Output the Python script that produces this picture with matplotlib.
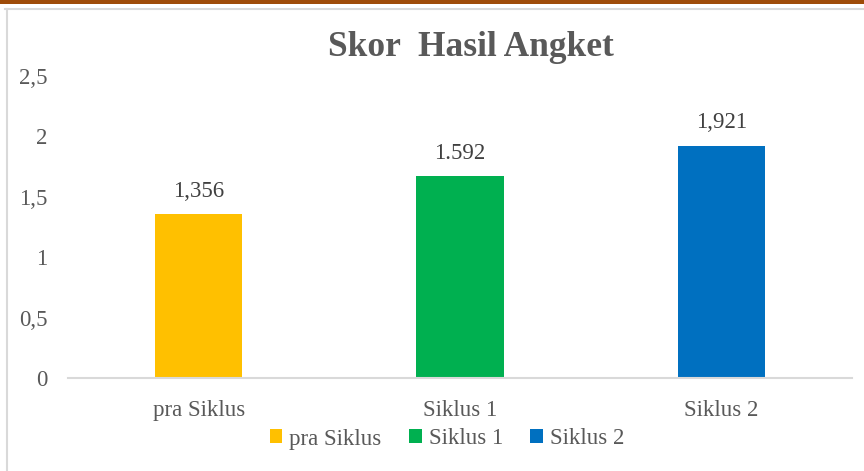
import matplotlib
matplotlib.use("Agg")
import matplotlib.pyplot as plt
from matplotlib.patches import Rectangle, Patch
from matplotlib.lines import Line2D

categories = ["pra Siklus", "Siklus 1", "Siklus 2"]
values = [1.356, 1.67, 1.921]
value_labels = ["1,356", "1.592", "1,921"]
colors = ["#FFC000", "#00B050", "#0070C0"]
yticks = [0, 0.5, 1, 1.5, 2, 2.5]
ytick_labels = ["0", "0,5", "1", "1,5", "2", "2,5"]
title = "Skor  Hasil Angket"

plt.rcParams["font.family"] = ["Liberation Serif", "DejaVu Serif"]

fig = plt.figure(figsize=(8.64, 4.71), dpi=100)
W, H = 864, 471

# frame decorations
fig.patches.append(Rectangle((0, 1 - 4 / H), 1, 4 / H, transform=fig.transFigure,
                             facecolor="#9E4B08", edgecolor="none", zorder=0))
fig.add_artist(Line2D([5 / W, 1], [1 - 9 / H, 1 - 9 / H], transform=fig.transFigure,
                      color="#D9D9D9", lw=1.5))
fig.add_artist(Line2D([7 / W, 7 / W], [0, 1 - 9 / H], transform=fig.transFigure,
                      color="#D9D9D9", lw=1.5))

ax = fig.add_axes([68 / W, 1 - 378 / H, (852 - 68) / W, (378 - 76) / H])
x = list(range(len(categories)))
bars = ax.bar(x, values, width=0.335, color=colors, zorder=2)
ax.set_xlim(-0.5, 2.5)
ax.set_ylim(0, 2.5)
ax.set_yticks(yticks)
ax.set_yticklabels(ytick_labels)
ax.set_xticks(x)
ax.set_xticklabels(categories)
for s in ["top", "right", "left"]:
    ax.spines[s].set_visible(False)
ax.spines["bottom"].set_color("#D9D9D9")
ax.spines["bottom"].set_linewidth(1.5)
ax.tick_params(axis="both", length=0, labelsize=16.5, colors="#595959")
ax.tick_params(axis="y", pad=15)
ax.tick_params(axis="x", pad=16)

for xi, v, lab in zip(x, values, value_labels):
    ax.text(xi, v + 0.19, lab, ha="center", va="center", fontsize=16.5, color="#404040")

fig.text(471 / W, 1 - 48 / H, title, ha="center", va="center", fontsize=25.5,
         fontweight="bold", color="#595959")

handles = [Patch(facecolor=c, edgecolor="none", label=l) for c, l in zip(colors, categories)]
leg = fig.legend(handles=handles, loc="center", bbox_to_anchor=(447 / W, 1 - 439 / H), ncol=3,
                 frameon=False, fontsize=16.5, handlelength=0.55, handleheight=0.55,
                 handletextpad=0.3, columnspacing=1.2)
for t in leg.get_texts():
    t.set_color("#595959")

fig.savefig("out.png", dpi=100)
